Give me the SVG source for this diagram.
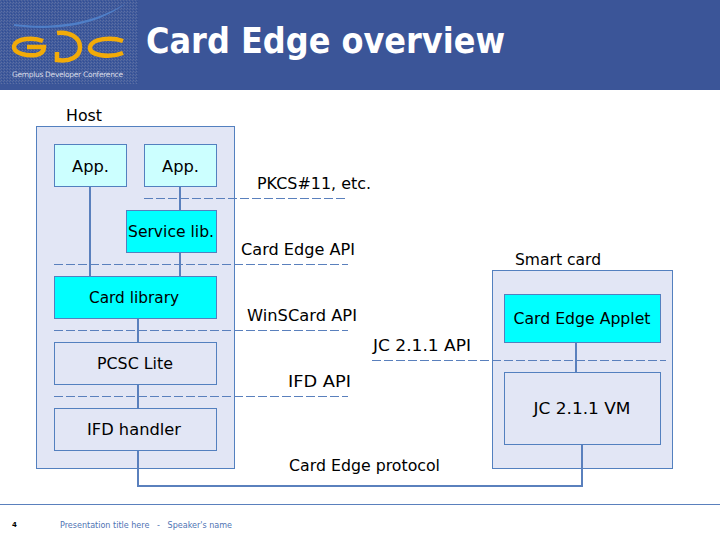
<svg xmlns="http://www.w3.org/2000/svg" width="720" height="540" viewBox="0 0 720 540">
<defs>
<style>
text{font-family:"DejaVu Sans","Liberation Sans",sans-serif;fill:#000;font-size:15.5px}
.m{text-anchor:middle}
.box{stroke:#5380bf;stroke-width:1;fill:#e2e6f5}
.cy{fill:#00ffff}
.lc{fill:#ccffff}
.w{stroke:#5a80bd;stroke-width:2;fill:none}
.d{stroke:#5a80bd;stroke-width:1;fill:none;stroke-dasharray:9 3}
</style>
<pattern id="dither" width="3" height="3" patternUnits="userSpaceOnUse"><rect width="3" height="3" fill="#3f5a9c"/><rect width="1" height="1" fill="#56699f"/><rect x="2" y="1" width="1" height="1" fill="#324c90"/><rect x="1" y="2" width="1" height="1" fill="#5d6fa3"/></pattern>
</defs>
<rect width="720" height="540" fill="#fff"/>
<g id="header">
<rect width="720" height="90" fill="#3b5598"/>
<rect width="138" height="84" fill="url(#dither)"/>
<path d="M14 24C60 30 100 20 126 3C100 24 60 32 14 26Z" fill="#4f7fc8"/>
<g fill="none" stroke="#f2ab08" stroke-width="4.500">
<path d="M43 41C34 37 16 38 14 46C13 54 28 56 36 55C41 54 44 52 44 47L27 47"/>
<path d="M57 33C70 31 80 38 80 47C80 57 70 62 57 60L57 52"/>
<path d="M123 41C112 37 92 38 90 47C89 56 110 58 123 53"/>
</g>
<text x="12" y="77" style="font-size:7.5px;fill:#d8dce8" textLength="111">Gemplus Developer Conference</text>
<text x="146" y="53" style="font-size:36px;font-weight:bold;fill:#fff" textLength="359" lengthAdjust="spacingAndGlyphs">Card Edge overview</text>
</g>
<g id="host"><rect class="box" x="36.5" y="126.5" width="198" height="342"/><text x="66" y="121" textLength="36" lengthAdjust="spacingAndGlyphs">Host</text></g>
<g id="smartcard"><rect class="box" x="492.5" y="270.5" width="180" height="198"/><text x="515" y="265" textLength="86" lengthAdjust="spacingAndGlyphs">Smart card</text></g>
<g id="connectors">
<path class="w" d="M90 186V276M180 186V210M180 252V276M138 318V342M138 384V408M576 342V372M582 444V486H138V450"/>
<path class="d" d="M144 198.500H348M54 264.500H348M54 330.500H348M54 396.500H348M372 360.500H666"/>
</g>
<g id="app1"><rect class="box lc" x="54.500" y="144.500" width="72" height="42"/><text class="m" x="90.500" y="172" textLength="37" lengthAdjust="spacingAndGlyphs">App.</text></g>
<g id="app2"><rect class="box lc" x="144.500" y="144.500" width="72" height="42"/><text class="m" x="180.500" y="172" textLength="37" lengthAdjust="spacingAndGlyphs">App.</text></g>
<g id="servicelib"><rect class="box cy" x="126.500" y="210.500" width="90" height="42"/><text class="m" x="171" y="237" textLength="86" lengthAdjust="spacingAndGlyphs">Service lib.</text></g>
<g id="cardlib"><rect class="box cy" x="54.500" y="276.500" width="162" height="42"/><text class="m" x="134" y="303" textLength="90" lengthAdjust="spacingAndGlyphs">Card library</text></g>
<g id="pcsc"><rect class="box" x="54.500" y="342.500" width="162" height="42"/><text class="m" x="135" y="369" textLength="76" lengthAdjust="spacingAndGlyphs">PCSC Lite</text></g>
<g id="ifd"><rect class="box" x="54.500" y="408.500" width="162" height="42"/><text class="m" x="134" y="435" textLength="94" lengthAdjust="spacingAndGlyphs">IFD handler</text></g>
<g id="applet"><rect class="box cy" x="504.500" y="294.500" width="156" height="48"/><text class="m" x="582" y="324" textLength="137" lengthAdjust="spacingAndGlyphs">Card Edge Applet</text></g>
<g id="vm"><rect class="box" x="504.500" y="372.500" width="156" height="72"/><text class="m" x="582" y="414" textLength="97" lengthAdjust="spacingAndGlyphs">JC 2.1.1 VM</text></g>
<g id="labels">
<text x="257" y="189" textLength="114" lengthAdjust="spacingAndGlyphs">PKCS#11, etc.</text>
<text x="241" y="255" textLength="114" lengthAdjust="spacingAndGlyphs">Card Edge API</text>
<text x="247" y="321" textLength="110" lengthAdjust="spacingAndGlyphs">WinSCard API</text>
<text x="373" y="351" textLength="98" lengthAdjust="spacingAndGlyphs">JC 2.1.1 API</text>
<text x="288" y="387" textLength="63" lengthAdjust="spacingAndGlyphs">IFD API</text>
<text x="289" y="471" textLength="151" lengthAdjust="spacingAndGlyphs">Card Edge protocol</text>
</g>
<g id="footer">
<path d="M0 504.500H720" stroke="#5a80bd" stroke-width="1"/>
<text x="12" y="527" style="font-size:7px;font-weight:bold">4</text>
<text x="60" y="528" style="font-size:8.500px;fill:#4f74b4" textLength="172" lengthAdjust="spacingAndGlyphs" xml:space="preserve">Presentation title here   -   Speaker's name</text>
</g>
</svg>
